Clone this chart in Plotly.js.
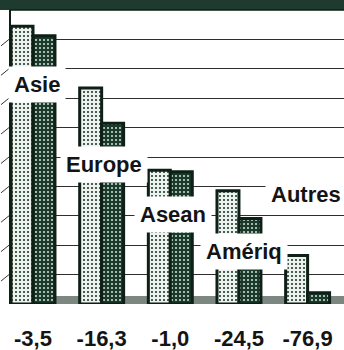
<!DOCTYPE html>
<html><head><meta charset="utf-8">
<script src="https://cdn.plot.ly/plotly-3.0.1.min.js"></script>
<style>html,body{margin:0;padding:0;background:#fff}#c{width:344px;height:350px}</style>
</head><body><div id="c"></div>
<script>
// Data
const regions = ['Asie', 'Europe', 'Asean', 'Amériq', 'Autres'];
const seriesBefore = [9.45, 7.35, 4.55, 3.85, 1.65];
const seriesAfter = [9.12, 6.15, 4.50, 2.91, 0.38];
const changeLabels = ['-3,5', '-16,3', '-1,0', '-24,5', '-76,9'];

// Layout constants (not data)
const labelPos = [[0.06, 7.45], [1.03, 4.76], [2.04, 3.03], [3.07, 1.80], [3.97, 3.74]];
const dark = '#1b3a2b', ink = '#0e1f17';

const traces = [
  {type: 'bar', name: 'avant', x: regions, y: seriesBefore,
   marker: {color: '#eef2ef', line: {color: ink, width: 3},
            pattern: {shape: '.', fillmode: 'replace', fgcolor: '#1d3a2d', bgcolor: '#eef2ef', size: 4, solidity: 0.22}}},
  {type: 'bar', name: 'après', x: regions, y: seriesAfter,
   marker: {color: dark, line: {color: ink, width: 3},
            pattern: {shape: '.', fillmode: 'replace', fgcolor: '#d4e4d9', bgcolor: dark, size: 4, solidity: 0.2}}}
];

const shapes = [
  {type: 'rect', xref: 'paper', yref: 'paper', x0: -0.05, x1: 1.01, y0: 1, y1: 1.04, fillcolor: '#1f3a2f', line: {width: 0}, layer: 'above'},
  {type: 'line', xref: 'paper', yref: 'paper', x0: 0, x1: 1, y0: 1, y1: 1, line: {color: ink, width: 1.5}},
  {type: 'rect', xref: 'paper', yref: 'y', x0: 0, x1: 1, y0: 0, y1: 0.27, fillcolor: '#7d8782', line: {width: 0}, layer: 'below'},
  {type: 'line', xref: 'paper', yref: 'paper', x0: 0, x1: 0, y0: 0, y1: 1, line: {color: ink, width: 2}}
];
for (let k = 1; k <= 9; k++) {
  shapes.push({type: 'line', xref: 'paper', yref: 'y', x0: -0.027, x1: -0.003, y0: k - 0.22, y1: k, line: {color: '#333', width: 1}});
}

const annotations = regions.map((r, i) => ({
  text: r, x: labelPos[i][0], y: labelPos[i][1], xref: 'x', yref: 'y', showarrow: false,
  font: {family: 'Liberation Sans, Arial, sans-serif', size: 22, color: '#141414', weight: 'bold'},
  bgcolor: '#ffffff', borderpad: 5
}));

const layout = {
  width: 344, height: 350,
  margin: {l: 10, r: 0, t: 10, b: 46},
  paper_bgcolor: '#ffffff', plot_bgcolor: '#ffffff',
  showlegend: false, barmode: 'group', bargap: 0.36, bargroupgap: 0,
  xaxis: {range: [-0.335, 4.53], tickvals: regions, ticktext: changeLabels, ticks: '',
          showgrid: false, zeroline: false, showline: false, ticklabelstandoff: 19,
          tickfont: {family: 'Liberation Sans, Arial, sans-serif', size: 22, color: '#141414', weight: 'bold'}},
  yaxis: {range: [0, 10], dtick: 1, showgrid: true, gridcolor: '#2e2e2e', gridwidth: 1,
          showticklabels: false, zeroline: false, showline: false, ticks: ''},
  shapes: shapes, annotations: annotations
};
Plotly.newPlot('c', traces, layout, {displayModeBar: false, staticPlot: true});
</script></body></html>
